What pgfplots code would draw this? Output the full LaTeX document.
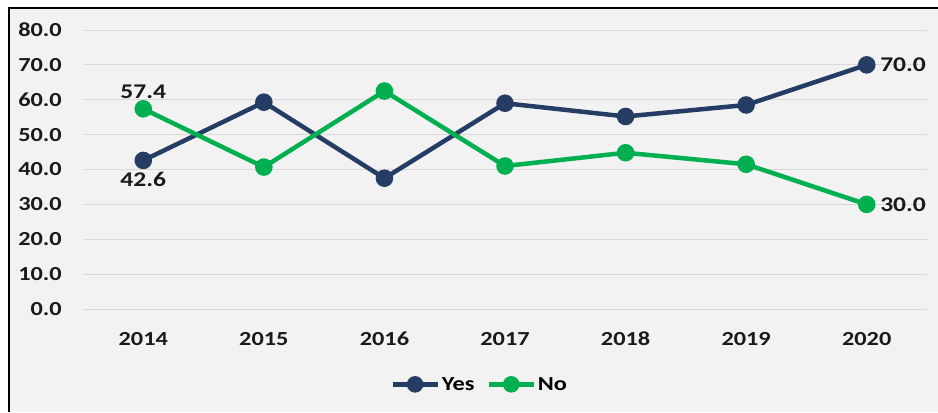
\documentclass[border=0pt]{standalone}
\usepackage{fontspec}
\setmainfont[FakeStretch=1.22]{Carlito}
\usepackage{pgfplots}
\pgfplotsset{compat=1.18}
\definecolor{yescol}{RGB}{37,61,101}
\definecolor{nocol}{RGB}{0,176,80}
\definecolor{bg}{RGB}{242,242,242}
\definecolor{gridc}{RGB}{217,217,217}
\definecolor{txt}{RGB}{26,26,26}

\begin{document}
\begin{tikzpicture}[x=1bp,y=1bp]
% page 938x412 px, axis box lower left at px (83,309)
\useasboundingbox (-83,-103) rectangle (855,309);
\fill[white] (-83,-103) rectangle (855,309);
\fill[bg] (-74,-103) rectangle (855,301);
\draw[black,line width=2bp] (-74,-103) -- (-74,301) -- (855,301);
\begin{axis}[
    at={(0,0)}, anchor=south west,
    scale only axis,
    width=844bp, height=279bp,
    xmin=-0.5, xmax=6.5,
    ymin=0, ymax=80,
    xtick={0,...,6},
    xticklabels={2014,2015,2016,2017,2018,2019,2020},
    ytick={0,10,...,80},
    axis line style={draw=none},
    major tick length=0pt,
    ymajorgrids=true,
    grid style={gridc, line width=1bp},
    tick label style={font=\fontsize{20}{22}\selectfont\bfseries, text=txt},
    /pgf/number format/assume math mode=true,
    yticklabel style={/pgf/number format/.cd, fixed, fixed zerofill, precision=1, /tikz/.cd, inner sep=0pt, xshift=-21bp},
    xticklabel style={inner sep=0pt, yshift=-23bp},
    legend style={at={(0.47,-0.27)}, anchor=center, draw=none, fill=none,
        legend columns=2, font=\fontsize{20}{22}\selectfont\bfseries,
        /tikz/every even column/.append style={column sep=10bp}},
    legend image code/.code={
        \draw[#1, mark=none] (0bp,0bp) -- (45bp,0bp);
        \draw[#1, only marks, mark size=6bp] plot coordinates {(22.5bp,0bp)};
    },
    legend cell align=left,
    clip=false,
]
\addplot[yescol, line width=4.5bp, mark=*, mark size=6.5bp, mark options={fill=yescol}]
    coordinates {(0,42.6) (1,59.3) (2,37.5) (3,59.0) (4,55.2) (5,58.5) (6,70.0)};
\addlegendentry{Yes}
\addplot[nocol, line width=4.5bp, mark=*, mark size=6.5bp, mark options={fill=nocol}]
    coordinates {(0,57.4) (1,40.7) (2,62.5) (3,41.0) (4,44.8) (5,41.5) (6,30.0)};
\addlegendentry{No}
\node[font=\fontsize{21}{23}\selectfont\bfseries, text=txt, anchor=south, yshift=7bp] at (axis cs:0,57.4) {57.4};
\node[font=\fontsize{21}{23}\selectfont\bfseries, text=txt, anchor=north, yshift=-8bp] at (axis cs:0,42.6) {42.6};
\node[font=\fontsize{21}{23}\selectfont\bfseries, text=txt, anchor=west, xshift=10bp] at (axis cs:6,70.0) {70.0};
\node[font=\fontsize{21}{23}\selectfont\bfseries, text=txt, anchor=west, xshift=10bp] at (axis cs:6,30.0) {30.0};
\end{axis}
\end{tikzpicture}
\end{document}
